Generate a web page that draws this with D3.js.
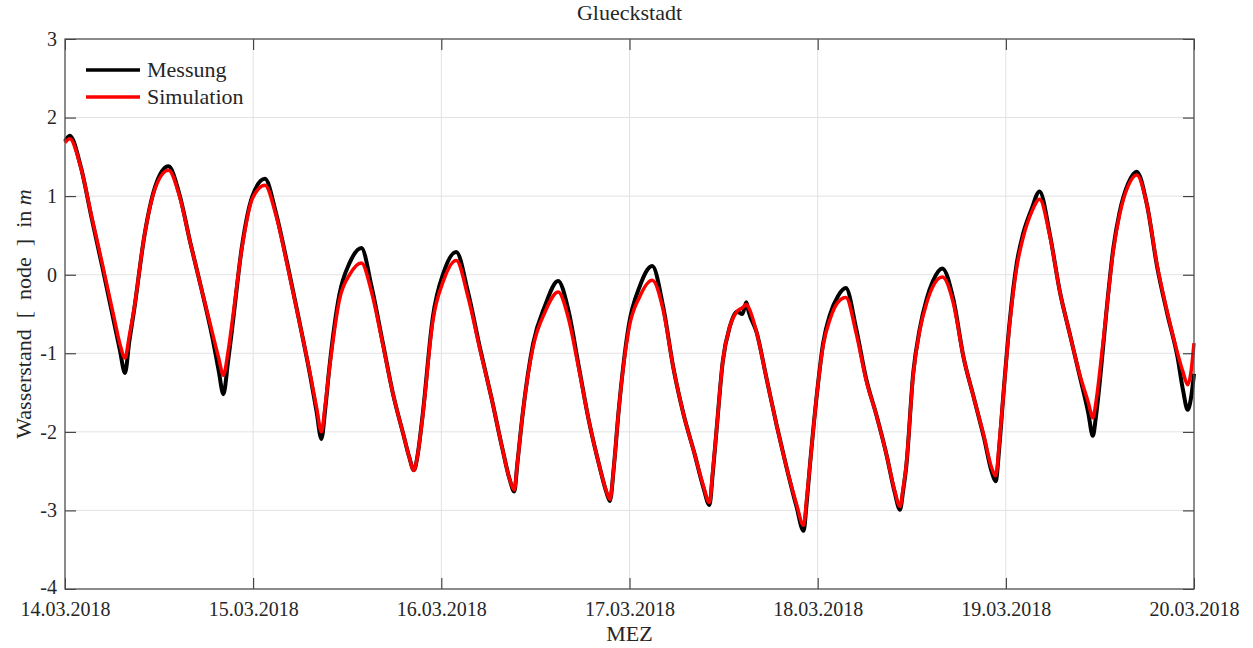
<!DOCTYPE html>
<html>
<head>
<meta charset="utf-8">
<script src="https://cdn.jsdelivr.net/npm/d3@7"></script>
<style>
  body { margin: 0; background: #fff; }
  svg text { font-family: 'Liberation Serif', 'Times New Roman', serif; fill: #262626; }
</style>
</head>
<body>
<div id="chart"></div>
<script>

// Stunden ab 14.03.2018 00:00 (MEZ)
const stunden = [
  0.0, 0.6, 2.0, 3.4, 4.8, 6.2, 7.0, 7.65, 8.2, 8.8, 10.15, 11.5,
  13.2, 14.6, 16.0, 17.4, 18.8, 19.6, 20.2, 20.8, 21.3, 22.6, 23.9,
  25.5, 26.9, 28.4, 29.8, 31.3, 32.1, 32.7, 33.2, 33.7, 35.0, 36.3,
  37.8, 39.1, 40.5, 41.8, 43.2, 43.9, 44.5, 45.0, 45.6, 46.9, 48.3,
  49.9, 51.4, 52.9, 54.4, 55.8, 56.7, 57.3, 57.7, 58.4, 59.7, 61.2,
  62.9, 64.2, 65.5, 66.8, 68.2, 69.0, 69.5, 70.0, 70.6, 71.9, 73.3,
  74.9, 76.3, 77.6, 78.9, 80.3, 81.4, 82.2, 82.6, 83.1, 83.9, 84.8, 85.7, 86.4, 86.9, 87.2,
  88.2, 89.5, 90.8, 92.0, 93.3, 94.2, 94.6, 95.0, 95.9, 96.7, 97.6, 98.6,
  99.6, 100.9, 102.2, 103.5, 104.8, 105.8, 106.5, 106.9, 107.3, 108.2, 109.0, 109.9, 110.7,
  111.9, 113.3, 114.6, 115.9, 117.2, 118.2, 118.7, 119.2, 119.7, 120.5, 121.4, 122.2, 123.3,
  124.3, 125.6, 126.9, 128.1, 129.4, 130.5, 131.1, 131.5, 132.0, 132.8, 133.7, 134.5, 135.6,
  136.7, 138.0, 139.3, 140.6, 141.9, 142.6, 143.2, 143.6, 144.0
];

// Messung (schwarz)
const messung = [
  1.70, 1.77, 1.38, 0.72, 0.08, -0.58, -0.96, -1.25, -0.85, -0.46, 0.51, 1.12,
  1.38, 1.02, 0.40, -0.18, -0.80, -1.22, -1.52, -1.10, -0.70, 0.38, 1.00,
  1.22, 0.79, 0.12, -0.55, -1.30, -1.75, -2.09, -1.70, -1.20, -0.25, 0.15,
  0.34, -0.15, -0.85, -1.50, -2.05, -2.32, -2.49, -2.28, -1.80, -0.55, 0.03,
  0.29, -0.22, -0.92, -1.57, -2.22, -2.60, -2.76, -2.40, -1.75, -0.88, -0.40,
  -0.08, -0.45, -1.15, -1.85, -2.45, -2.75, -2.88, -2.45, -1.75, -0.65, -0.15,
  0.11, -0.41, -1.19, -1.78, -2.28, -2.70, -2.93, -2.55, -1.98, -1.10, -0.66, -0.47, -0.50, -0.35, -0.47,
  -0.73, -1.33, -1.93, -2.44, -2.95, -3.26, -2.90, -2.44, -1.52, -0.87, -0.50, -0.27,
  -0.17, -0.68, -1.33, -1.79, -2.30, -2.76, -2.99, -2.75, -2.44, -1.24, -0.70, -0.31, -0.08,
  0.08, -0.31, -1.05, -1.56, -2.07, -2.51, -2.63, -2.15, -1.51, -0.59, 0.15, 0.52, 0.84,
  1.06, 0.52, -0.22, -0.73, -1.28, -1.75, -2.05, -1.80, -1.35, -0.50, 0.33, 0.79, 1.16,
  1.31, 0.89, 0.10, -0.50, -1.05, -1.47, -1.72, -1.58, -1.26
];

// Simulation (rot)
const simulation = [
  1.68, 1.73, 1.37, 0.74, 0.12, -0.52, -0.88, -1.06, -0.78, -0.44, 0.51, 1.10,
  1.33, 1.00, 0.40, -0.18, -0.74, -1.06, -1.28, -0.98, -0.62, 0.36, 0.97,
  1.14, 0.76, 0.10, -0.56, -1.28, -1.70, -2.00, -1.65, -1.22, -0.32, 0.00,
  0.15, -0.22, -0.87, -1.50, -2.05, -2.32, -2.49, -2.28, -1.82, -0.60, -0.07,
  0.18, -0.28, -0.94, -1.57, -2.22, -2.60, -2.74, -2.40, -1.75, -0.92, -0.48,
  -0.22, -0.55, -1.18, -1.85, -2.45, -2.74, -2.86, -2.45, -1.75, -0.70, -0.28,
  -0.07, -0.45, -1.19, -1.78, -2.28, -2.68, -2.90, -2.52, -1.98, -1.10, -0.66, -0.47, -0.42, -0.38, -0.42,
  -0.73, -1.33, -1.93, -2.44, -2.92, -3.19, -2.85, -2.44, -1.52, -0.90, -0.56, -0.35,
  -0.29, -0.74, -1.35, -1.79, -2.30, -2.74, -2.95, -2.72, -2.42, -1.26, -0.72, -0.36, -0.15,
  -0.03, -0.36, -1.05, -1.56, -2.05, -2.46, -2.56, -2.10, -1.51, -0.62, 0.10, 0.47, 0.80,
  0.96, 0.50, -0.22, -0.73, -1.26, -1.62, -1.82, -1.62, -1.22, -0.50, 0.30, 0.76, 1.13,
  1.27, 0.89, 0.12, -0.48, -1.00, -1.24, -1.40, -1.25, -0.87
];

const yTicks = [3, 2, 1, 0, -1, -2, -3, -4];
const xTickDays = ["2018-03-14", "2018-03-15", "2018-03-16", "2018-03-17", "2018-03-18", "2018-03-19", "2018-03-20"];

const start = new Date(2018, 2, 14, 0, 0);
const ende = new Date(2018, 2, 20, 0, 0);

const width = 1253, height = 648;
const margin = {left: 65, top: 39, right: 59, bottom: 59};
const w = width - margin.left - margin.right;
const h = height - margin.top - margin.bottom;
const serif = "'Liberation Serif', 'Times New Roman', serif";

const svg = d3.select("#chart").append("svg")
    .attr("width", width)
    .attr("height", height);

const g = svg.append("g")
    .attr("transform", `translate(${margin.left},${margin.top})`);

const x = d3.scaleTime().domain([start, ende]).range([0, w]);
const y = d3.scaleLinear().domain([-4, 3]).range([h, 0]);

const xTicks = xTickDays.map(s => d3.timeParse("%Y-%m-%d")(s));

// grid
g.append("g").selectAll("line").data(xTicks).enter().append("line")
    .attr("x1", d => x(d)).attr("x2", d => x(d))
    .attr("y1", 0).attr("y2", h)
    .attr("stroke", "#e2e2e2").attr("stroke-width", 1);

g.append("g").selectAll("line").data(yTicks).enter().append("line")
    .attr("x1", 0).attr("x2", w)
    .attr("y1", d => y(d)).attr("y2", d => y(d))
    .attr("stroke", "#e2e2e2").attr("stroke-width", 1);

// lines
const data = stunden.map((s, i) => ({
    t: d3.timeMinute.offset(start, Math.round(s * 60)),
    m: messung[i],
    s: simulation[i]
}));

const lineM = d3.line().x(d => x(d.t)).y(d => y(d.m)).curve(d3.curveMonotoneX);
const lineS = d3.line().x(d => x(d.t)).y(d => y(d.s)).curve(d3.curveMonotoneX);

g.append("path").datum(data)
    .attr("d", lineM)
    .attr("fill", "none").attr("stroke", "#000").attr("stroke-width", 4)
    .attr("stroke-linejoin", "round");

g.append("path").datum(data)
    .attr("d", lineS)
    .attr("fill", "none").attr("stroke", "#ff0000").attr("stroke-width", 3.5)
    .attr("stroke-linejoin", "round");

// axes (ticks inside, on all four sides)
const fmt = d3.timeFormat("%d.%m.%Y");

const xAxis = g.append("g")
    .attr("transform", `translate(0,${h})`)
    .call(d3.axisBottom(x).tickValues(xTicks).tickFormat(fmt).tickSizeInner(-11).tickSizeOuter(0).tickPadding(13));

const yAxis = g.append("g")
    .call(d3.axisLeft(y).tickValues(yTicks).tickFormat(d => String(d)).tickSizeInner(-11).tickSizeOuter(0).tickPadding(8));

g.append("g")
    .call(d3.axisTop(x).tickValues(xTicks).tickFormat("").tickSizeInner(-11).tickSizeOuter(0));

g.append("g")
    .attr("transform", `translate(${w},0)`)
    .call(d3.axisRight(y).tickValues(yTicks).tickFormat("").tickSizeInner(-11).tickSizeOuter(0));

g.selectAll(".domain").remove();
g.selectAll("g").attr("font-family", serif);
g.selectAll(".tick line").attr("stroke", "#262626");

xAxis.selectAll("text").attr("font-size", 20).attr("fill", "#262626");
yAxis.selectAll("text").attr("font-size", 20).attr("fill", "#262626");
// "-4" sitzt knapp ueber dem ersten Datum
yAxis.selectAll(".tick text").filter(d => d === -4).attr("dy", "0.2em");

// box
g.append("rect")
    .attr("x", 0).attr("y", 0).attr("width", w).attr("height", h)
    .attr("fill", "none").attr("stroke", "#555").attr("stroke-width", 1.3);

// title and labels
svg.append("text")
    .attr("x", margin.left + w / 2).attr("y", 20)
    .attr("text-anchor", "middle")
    .attr("font-family", serif)
    .attr("font-size", 22)
    .text("Glueckstadt");

svg.append("text")
    .attr("x", margin.left + w / 2).attr("y", 641)
    .attr("text-anchor", "middle")
    .attr("font-family", serif)
    .attr("font-size", 22)
    .text("MEZ");

const yl = svg.append("text")
    .attr("transform", `translate(31,${margin.top + h / 2}) rotate(-90)`)
    .attr("text-anchor", "middle")
    .attr("font-family", serif)
    .attr("font-size", 22)
    .attr("xml:space", "preserve");
yl.append("tspan").text("Wasserstand\u2002[\u2002node\u2002]\u2002in ");
yl.append("tspan").attr("font-style", "italic").text("m");

// legend
const legend = g.append("g");
legend.append("rect")
    .attr("x", 1).attr("y", 1).attr("width", 186).attr("height", 74)
    .attr("fill", "#fff");

const legItems = [
    {label: "Messung", color: "#000"},
    {label: "Simulation", color: "#ff0000"}
];

legItems.forEach((d, i) => {
    const yy = 31 + i * 27;
    legend.append("line")
        .attr("x1", 21).attr("x2", 75)
        .attr("y1", yy).attr("y2", yy)
        .attr("stroke", d.color).attr("stroke-width", 3.5);
    legend.append("text")
        .attr("x", 82).attr("y", yy + 7)
        .attr("font-family", serif)
        .attr("font-size", 22)
        .text(d.label);
});

</script>
</body>
</html>
